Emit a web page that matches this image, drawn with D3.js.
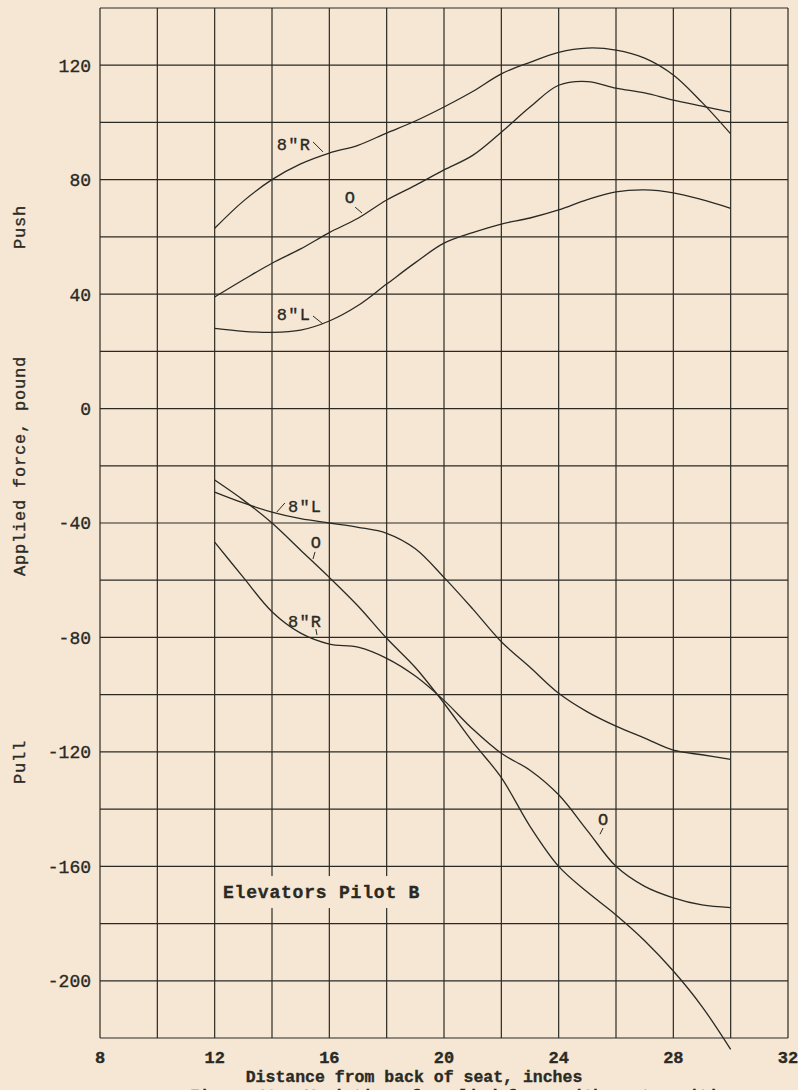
<!DOCTYPE html>
<html lang="en">
<head>
  <meta charset="utf-8"/>
  <title>Elevators Pilot B</title>
  <script src="https://cdn.jsdelivr.net/npm/d3@7/dist/d3.min.js"></script>
  <style>
    html,body { margin:0; padding:0; background:#f6e7d5; overflow:hidden; }
    svg { display:block; }
    text { font-family:"Liberation Mono","DejaVu Sans Mono",monospace; fill:#2a2a24;
           stroke:#2a2a24; stroke-width:0.35; }
  </style>
</head>
<body>
<svg width="798" height="1090"></svg>
<script>
// distance from back of seat, inches
const dist = [12,13,14,15,16,17,18,19,20,21,22,23,24,25,26,27,28,29,30];

// push curves (pounds)
const push8R = [63,72.5,80,85.5,89.3,92,96.3,100.5,105.4,110.8,117,121,124.5,126,125.3,122.5,116.6,107,96];
const push0  = [39,45,50.8,55.8,61.5,66.5,72.9,78,83.4,88.5,96.6,105.4,113,114.3,112,110.3,107.8,105.7,103.6];
const push8L = [28,27,26.6,27.4,30.6,36,43.5,51,57.8,61.5,64.5,66.6,69.4,73,75.7,76.4,75.4,73,70];

// pull curves (pounds)
const pull8L = [-29.2,-33,-36.2,-38.5,-40,-41.5,-43.6,-49,-59,-70,-81.5,-90.4,-99.5,-106,-111,-115.2,-119.4,-121,-122.6];
const pull0  = [-25,-32,-40,-49.5,-59,-69,-80.3,-90.5,-103,-116.5,-129,-146,-160,-169,-177,-186,-196.6,-209,-224];
const pull8R = [-46.7,-59,-71,-78.5,-82.3,-83.4,-87.3,-93.5,-102,-112,-120.5,-126.4,-135,-147.5,-160,-167,-171,-173.5,-174.4];

const series = [push8R, push0, push8L, pull8L, pull0, pull8R];

const xTicks = [8,12,16,20,24,28,32];
const yTicks = [120,80,40,0,-40,-80,-120,-160,-200];

// curve labels: text, anchor, text pos, leader start/end (data units)
const labels = [
  {t:'8"R', a:"start",  x:14.17, y:90.4,    l:[[15.43,93.2],[15.78,89.7]]},
  {t:'O',   a:"middle", x:16.72, y:71.8,    l:[[16.9,70.4],[17.14,68.35]]},
  {t:'8"L', a:"start",  x:14.17, y:30.95,   l:[[15.43,32.35],[15.78,29.55]]},
  {t:'8"L', a:"start",  x:14.56, y:-36.15,  l:[[14.17,-36.15],[14.45,-33.0]]},
  {t:'O',   a:"middle", x:15.53, y:-48.7,   l:[[15.5,-50.1],[15.43,-52.6]]},
  {t:'8"R', a:"start",  x:14.56, y:-76.35,  l:[[15.53,-77.05],[15.57,-79.15]]},
  {t:'O',   a:"middle", x:25.55, y:-145.55, l:[[25.55,-146.6],[25.44,-148.8]]}
];

const svg = d3.select("svg");
const ink = "#2a2a24";

const x = d3.scaleLinear().domain([8,32]).range([100,788]);
const y = d3.scaleLinear().domain([-220,140]).range([1038,8]);

// grid
const grid = svg.append("g").attr("stroke",ink).attr("stroke-width",1.2);
grid.selectAll("line.v").data(d3.range(8,33,2)).join("line")
  .attr("class","v")
  .attr("x1",d=>x(d)).attr("x2",d=>x(d))
  .attr("y1",y(140)).attr("y2",y(-220));
grid.selectAll("line.h").data(d3.range(-220,141,20)).join("line")
  .attr("class","h")
  .attr("x1",x(8)).attr("x2",x(32))
  .attr("y1",d=>y(d)).attr("y2",d=>y(d));

// curves
const line = d3.line()
  .x((d,i)=>x(dist[i]))
  .y(d=>y(d))
  .curve(d3.curveCatmullRom.alpha(0.5));
svg.append("g").selectAll("path").data(series).join("path")
  .attr("d",line)
  .attr("fill","none")
  .attr("stroke",ink)
  .attr("stroke-width",1.3);

// curve labels
const lg = svg.append("g");
lg.selectAll("text").data(labels).join("text")
  .attr("x",d=>x(d.x)).attr("y",d=>y(d.y))
  .attr("text-anchor",d=>d.a)
  .attr("font-size",17)
  .attr("letter-spacing",d=>d.t.length>1?1.2:0)
  .text(d=>d.t);
lg.selectAll("line").data(labels).join("line")
  .attr("x1",d=>x(d.l[0][0])).attr("y1",d=>y(d.l[0][1]))
  .attr("x2",d=>x(d.l[1][0])).attr("y2",d=>y(d.l[1][1]))
  .attr("stroke",ink).attr("stroke-width",1);

// title inside plot, with paper behind it
svg.append("rect")
  .attr("x",x(12)+4).attr("y",y(-163.4))
  .attr("width",205).attr("height",32)
  .attr("fill","#f6e7d5");
svg.append("text")
  .attr("x",x(12.29)).attr("y",y(-171.1))
  .attr("font-size",18).attr("font-weight","bold")
  .attr("letter-spacing",0.8)
  .text("Elevators Pilot B");

// y tick labels
svg.append("g").selectAll("text").data(yTicks).join("text")
  .attr("x",91).attr("y",d=>y(d))
  .attr("dy","0.36em")
  .attr("text-anchor","end")
  .attr("font-size",18)
  .text(d=>d);

// x tick labels
svg.append("g").selectAll("text").data(xTicks).join("text")
  .attr("x",d=>x(d)).attr("y",1063)
  .attr("text-anchor","middle")
  .attr("font-size",17).attr("font-weight","bold")
  .text(d=>d);

svg.append("text")
  .attr("x",414).attr("y",1082)
  .attr("text-anchor","middle")
  .attr("font-size",16.5).attr("font-weight","bold")
  .text("Distance from back of seat, inches");

// caption, cut by the page edge
svg.append("text")
  .attr("x",190).attr("y",1101)
  .attr("font-size",16).attr("font-weight","bold")
  .text("Figure 18.- Variation of applied force with seat position.");

// y axis titles
const yt = (txt,cy)=>svg.append("text")
  .attr("transform",`translate(25,${cy}) rotate(-90)`)
  .attr("text-anchor","middle")
  .attr("font-size",17)
  .attr("letter-spacing",0.8)
  .text(txt);
yt("Applied force, pound",466);
yt("Push",227);
yt("Pull",762);
</script>
</body>
</html>
